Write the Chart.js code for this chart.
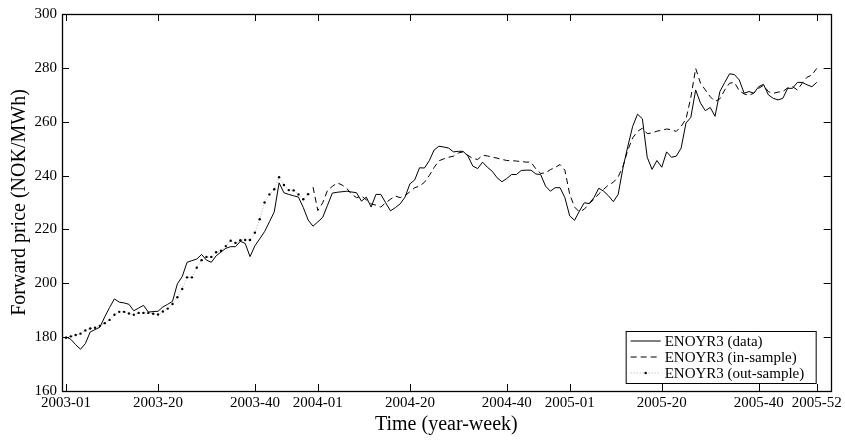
<!DOCTYPE html>
<html>
<head>
<meta charset="utf-8">
<title>ENOYR3 forward price</title>
<script src="https://cdn.jsdelivr.net/npm/chart.js@4.4.1/dist/chart.umd.min.js"></script>
<style>
  html, body { margin: 0; padding: 0; background: #fff; }
  #wrap { width: 845px; height: 440px; }
</style>
</head>
<body>
<div id="wrap"><canvas id="priceChart" width="845" height="440"></canvas></div>
<script>
// weekly prices, index 0 = 2003-01 ... 155 = 2005-52
var enoyr3Data = [
    180.1, 179.2, 177.2, 175.5, 177.6, 181.9, 182.8, 183.7, 187.5, 191,
    194.2, 193, 192.7, 192.2, 189.8, 190.8, 191.8, 189.3, 189.5, 189.6,
    191.2, 192.2, 193.3, 199.8, 202.5, 207.8, 208.4, 209, 210.7, 208.6,
    207.8, 210.2, 211.6, 213, 213.6, 213.6, 215.6, 214.8, 209.9, 213.9,
    216.5, 219.2, 222.8, 226.5, 237.3, 233.6, 233, 232.5, 232, 228.1,
    223.5, 221.2, 222.8, 224.5, 229, 233.5, 233.8, 234, 234.2, 233.9,
    233.6, 230.5, 232, 228.3, 233, 233, 229.9, 226.9, 228.1, 229.5,
    232, 236.9, 238.4, 242.9, 242.8, 245.5, 249.5, 250.9, 250.6, 250.2,
    248.8, 249, 249, 247.2, 243.5, 242.6, 245, 243.1, 241.6, 239.2,
    237.7, 238.9, 240.4, 240.4, 241.9, 242, 242, 240.6, 240.4, 236.1,
    234.2, 235.5, 235.5, 231.8, 225, 223.4, 226.8, 229.9, 229.6, 231.8,
    235.3, 234.2, 232.5, 230.3, 233, 242.9, 250.9, 258.3, 262.8, 261.1,
    246.8, 242.3, 245.6, 243.1, 248.8, 246.8, 247.2, 250.2, 259.5, 261.6,
    271.8, 266.9, 264.1, 265.3, 262, 271.2, 274.6, 277.8, 277.5, 275.5,
    270.6, 271.2, 270.6, 273, 273.9, 270, 268.7, 268.1, 268.7, 272.4,
    272.4, 274.6, 274.6, 273.7, 273, 274.6
];

// model fit, from week index 51 to the end
var inSampleStart = 51;
var inSample = [
    235.7, 227, 229.9, 234.5, 236, 237.3, 236.5, 235.2, 233, 231.8,
    232.4, 231, 229.5, 229, 228.3, 229.9, 231.2, 232.4, 231.8, 232.5,
    234, 235.5, 236.1, 237.5, 240, 243, 245.5, 246.2, 246.8, 247.2,
    248.4, 248.8, 247.5, 246.3, 246, 247.5, 247.3, 246.8, 246.5, 246,
    245.6, 245.5, 245.4, 245.2, 245, 245, 242.5, 240.8, 241, 242.2,
    243, 244.1, 242, 233, 228.3, 226.5, 227.5, 229.5, 231.2, 233.2,
    234.9, 236.5, 237.5, 239.5, 243.5, 249.5, 254, 256.4, 257.6, 255.6,
    255.8, 256.5, 256.8, 257.3, 257, 256.4, 258.3, 261, 269, 279.8,
    274.3, 271.8, 269.3, 267.5, 268.5, 271.8, 274.3, 274.6, 271.5, 270.3,
    269.8, 270.6, 272.4, 273.5, 271.2, 270.5, 271, 271.2, 272.6, 273,
    271.8, 274.3, 276.5, 277.4, 279.8
];

// model forecast for 2003, week index 0..50
var outSampleStart = 0;
var outSample = [
    179.8, 180.3, 180.8, 181.3, 182.5, 183.2, 183.5, 184.2, 185.2, 186.4,
    188.3, 189.4, 189.4, 188.8, 188.3, 189, 189, 189, 188.7, 188.4,
    189.5, 190.6, 192.3, 194.8, 197.9, 202.2, 202.2, 205.8, 208.6, 209.8,
    209.8, 211.5, 212.1, 213.8, 215.8, 215, 216, 216.1, 216.1, 218.8,
    223.8, 230, 233, 234.9, 239.4, 236.5, 234.6, 234.5, 233, 231.2,
    233.1
];

var tickWeeks = [0, 19, 39, 52, 71, 91, 104, 123, 143, 155];
var tickLabels = ['2003-01', '2003-20', '2003-40', '2004-01', '2004-20',
                  '2004-40', '2005-01', '2005-20', '2005-40', '2005-52'];

function toPoints(values, start) {
    return values.map(function (v, k) {
        return { x: start + k, y: v };
    });
}

var serif = "'Liberation Serif', 'Times New Roman', serif";
Chart.defaults.font.family = serif;
Chart.defaults.color = '#000';

// box around the plot with inward ticks on all four sides
var framePlugin = {
    id: 'frame',
    afterDatasetsDraw: function (chart) {
        var ctx = chart.ctx;
        var a = chart.chartArea;
        var xs = chart.scales.x;
        var ys = chart.scales.y;
        var len = 7;
        ctx.save();
        ctx.strokeStyle = '#000';
        ctx.lineWidth = 1;
        ctx.setLineDash([]);
        ctx.beginPath();
        xs.ticks.forEach(function (t) {
            var px = Math.round(xs.getPixelForValue(t.value)) + 0.5;
            ctx.moveTo(px, a.bottom); ctx.lineTo(px, a.bottom - len);
            ctx.moveTo(px, a.top); ctx.lineTo(px, a.top + len);
        });
        ys.ticks.forEach(function (t) {
            var py = Math.round(ys.getPixelForValue(t.value)) + 0.5;
            ctx.moveTo(a.left, py); ctx.lineTo(a.left + len, py);
            ctx.moveTo(a.right, py); ctx.lineTo(a.right - len, py);
        });
        ctx.stroke();
        ctx.lineWidth = 1.3;
        ctx.strokeRect(Math.round(a.left) + 0.5, Math.round(a.top) + 0.5,
                       Math.round(a.right - a.left), Math.round(a.bottom - a.top));
        ctx.restore();
    }
};

// legend box in the lower right corner of the plot
var legendBoxPlugin = {
    id: 'legendBox',
    afterDraw: function (chart) {
        var ctx = chart.ctx;
        var a = chart.chartArea;
        var w = 190, h = 52, rowH = 16;
        var left = a.right - 15 - w;
        var top = a.bottom - 8 - h;
        ctx.save();
        ctx.fillStyle = '#fff';
        ctx.fillRect(left, top, w, h);
        ctx.strokeStyle = '#000';
        ctx.lineWidth = 1;
        ctx.strokeRect(left + 0.5, top + 0.5, w, h);
        ctx.font = '15px ' + serif;
        ctx.textBaseline = 'middle';
        ctx.textAlign = 'left';
        chart.data.datasets.forEach(function (ds, i) {
            var y = top + 10 + i * rowH;
            var x0 = left + 5, x1 = left + 35;
            ctx.strokeStyle = ds.borderColor;
            ctx.lineWidth = ds.borderWidth;
            ctx.setLineDash(ds.borderDash || []);
            ctx.beginPath();
            ctx.moveTo(x0, y); ctx.lineTo(x1, y);
            ctx.stroke();
            if (ds.pointRadius > 0) {
                ctx.fillStyle = ds.pointBackgroundColor;
                ctx.beginPath();
                ctx.arc((x0 + x1) / 2, y, ds.pointRadius, 0, Math.PI * 2);
                ctx.fill();
            }
            ctx.setLineDash([]);
            ctx.fillStyle = '#000';
            ctx.fillText(ds.label, x1 + 4, y + 1);
        });
        ctx.restore();
    }
};

var priceChart = new Chart(document.getElementById('priceChart'), {
    type: 'line',
    data: {
        datasets: [
            {
                label: 'ENOYR3 (data)',
                data: toPoints(enoyr3Data, 0),
                borderColor: '#000',
                borderWidth: 1,
                pointRadius: 0
            },
            {
                label: 'ENOYR3 (in-sample)',
                data: toPoints(inSample, inSampleStart),
                borderColor: '#000',
                borderWidth: 1,
                borderDash: [6, 4],
                pointRadius: 0
            },
            {
                label: 'ENOYR3 (out-sample)',
                data: toPoints(outSample, outSampleStart),
                borderColor: '#9a9a9a',
                borderWidth: 0.8,
                borderDash: [1, 2],
                pointRadius: 1.2,
                pointBorderWidth: 0,
                pointBackgroundColor: '#000'
            }
        ]
    },
    options: {
        responsive: false,
        animation: false,
        layout: { padding: { top: 12, right: 13, left: 0, bottom: 0 } },
        elements: { line: { tension: 0 } },
        plugins: {
            legend: { display: false },
            tooltip: { enabled: false }
        },
        scales: {
            x: {
                type: 'linear',
                min: -0.82,
                max: 157.87,
                grid: { display: false, drawTicks: false },
                border: { display: false },
                afterBuildTicks: function (scale) {
                    scale.ticks = tickWeeks.map(function (w) { return { value: w }; });
                },
                afterFit: function (scale) { scale.height = 49; },
                ticks: {
                    autoSkip: false,
                    maxRotation: 0,
                    padding: 3,
                    font: { size: 15 },
                    callback: function (value) {
                        var k = tickWeeks.indexOf(value);
                        return k >= 0 ? tickLabels[k] : '';
                    }
                },
                title: {
                    display: true,
                    text: 'Time (year-week)',
                    font: { size: 20 },
                    padding: { top: 0, bottom: 3 }
                }
            },
            y: {
                min: 160,
                max: 300,
                grid: { display: false, drawTicks: false },
                border: { display: false },
                afterFit: function (scale) { scale.width = 62; },
                ticks: {
                    stepSize: 20,
                    padding: 5,
                    font: { size: 15 }
                },
                title: {
                    display: true,
                    text: 'Forward price (NOK/MWh)',
                    font: { size: 20 },
                    padding: { top: 8, bottom: 0 }
                }
            }
        }
    },
    plugins: [framePlugin, legendBoxPlugin]
});
</script>
</body>
</html>
